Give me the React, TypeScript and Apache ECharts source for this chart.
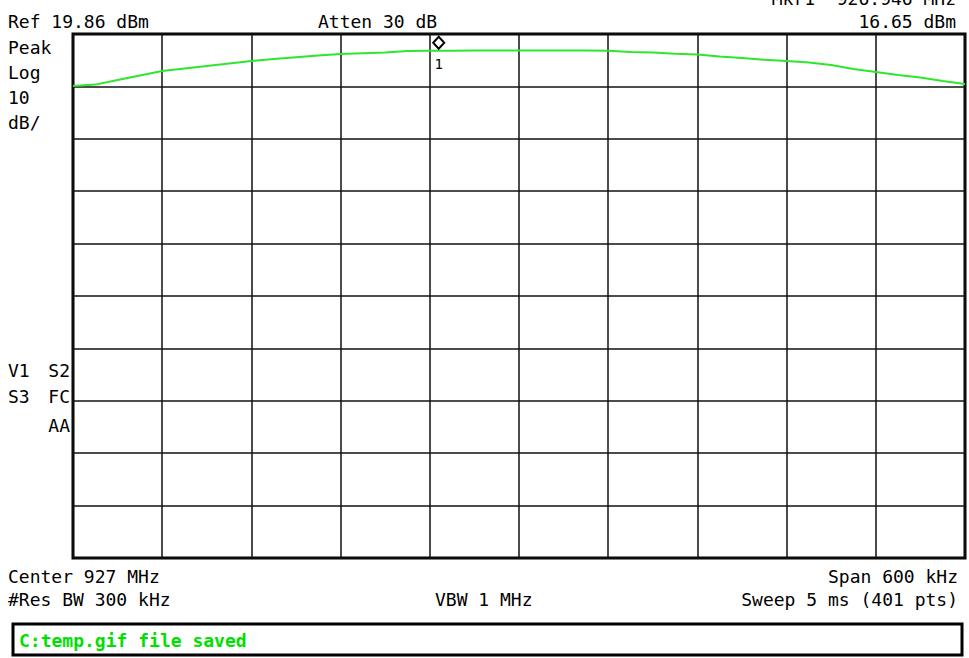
import React, { useEffect, useRef } from "react";
import * as echarts from "echarts";

// Frequency offset from the 927 MHz centre, in kHz (every 10th of 401 sweep points)
const FREQ_OFFSETS_KHZ = [
  -300, -285, -270, -255, -240, -225, -210, -195, -180, -165, -150, -135, -120, -105,
  -90, -75, -60, -45, -30, -15, 0, 15, 30, 45, 60, 75, 90, 105, 120, 135, 150, 165,
  180, 195, 210, 225, 240, 255, 270, 285, 300,
];

// Measured trace level in dBm
const TRACE_DBM = [
  9.94, 10.2, 11.08, 11.94, 12.8, 13.28, 13.75, 14.23, 14.71, 15.09, 15.43, 15.76,
  16.04, 16.18, 16.33, 16.62, 16.67, 16.68, 16.7, 16.7, 16.7, 16.7, 16.7, 16.69,
  16.68, 16.42, 16.33, 16.1, 15.95, 15.57, 15.28, 14.95, 14.71, 14.42, 13.94, 13.18,
  12.61, 12.04, 11.56, 10.89, 10.32,
];

// Display scale
const REF_LEVEL_DBM = 19.86;
const DB_PER_DIV = 10;
const DIVISIONS = 10;
const SPAN_KHZ = 600;

// Marker 1
const MARKER_OFFSET_KHZ = -54;
const MARKER_DBM = 16.65;

// Annotation texts
const HEADER_LEFT = "Ref 19.86 dBm";
const HEADER_MID = "Atten 30 dB";
const MARKER_FREQ_TEXT = "Mkr1  926.946 MHz";
const MARKER_LEVEL_TEXT = "16.65 dBm";
const SIDE_LINES = ["Peak", "Log", "10", "dB/"];
const FOOT_CENTER = "Center 927 MHz";
const FOOT_SPAN = "Span 600 kHz";
const FOOT_RBW = "#Res BW 300 kHz";
const FOOT_VBW = "VBW 1 MHz";
const FOOT_SWEEP = "Sweep 5 ms (401 pts)";
const STATUS_TEXT = "C:temp.gif file saved";

const FONT = '18px "DejaVu Sans Mono"';
const TRACE_GREEN = "#2ee62e";

function txt(text: string, x: number, y: number, align: string = "left", extra: any = {}) {
  return {
    type: "text",
    x,
    y,
    silent: true,
    style: {
      text,
      font: FONT,
      fill: "#000",
      align,
      textAlign: align,
      verticalAlign: "middle",
      textVerticalAlign: "middle",
      ...extra,
    },
  };
}

export default function App() {
  const ref = useRef<HTMLDivElement>(null);

  useEffect(() => {
    if (!ref.current) return;
    const chart = echarts.init(ref.current, null, { renderer: "svg" });

    const bottomDbm = REF_LEVEL_DBM - DB_PER_DIV * DIVISIONS;
    const half = SPAN_KHZ / 2;

    const graphics: any[] = [
      txt(HEADER_LEFT, 8, 21),
      txt(HEADER_MID, 318, 21),
      txt(MARKER_FREQ_TEXT, 956, -2, "right"),
      txt(MARKER_LEVEL_TEXT, 956, 21, "right"),
      ...SIDE_LINES.map((s, i) => txt(s, 8, 47 + i * 25)),
      txt("V1", 8, 370),
      txt("S2", 70, 370, "right"),
      txt("S3", 8, 396),
      txt("FC", 70, 396, "right"),
      txt("AA", 70, 425, "right"),
      txt(FOOT_CENTER, 8, 576),
      txt(FOOT_RBW, 8, 599),
      txt(FOOT_VBW, 435, 599),
      txt(FOOT_SPAN, 958, 576, "right"),
      txt(FOOT_SWEEP, 958, 599, "right"),
      {
        type: "rect",
        shape: { x: 13, y: 624, width: 949, height: 31 },
        style: { fill: "#fff", stroke: "#000", lineWidth: 3 },
        silent: true,
      },
      txt(STATUS_TEXT, 19, 640, "left", {
        font: 'bold 18px "DejaVu Sans Mono"',
        fill: "#00e000",
      }),
    ];

    chart.setOption({
      animation: false,
      backgroundColor: "#fff",
      grid: {
        left: 73,
        top: 34,
        width: 892,
        height: 524,
        show: true,
        borderColor: "#000",
        borderWidth: 3,
        backgroundColor: "#fff",
      },
      xAxis: {
        type: "value",
        min: -half,
        max: half,
        interval: SPAN_KHZ / DIVISIONS,
        axisLine: { show: false },
        axisTick: { show: false },
        axisLabel: { show: false },
        splitLine: { show: true, lineStyle: { color: "#111", width: 1.5 } },
      },
      yAxis: [
        {
          // graticule: one line per division
          type: "value",
          min: 0,
          max: DIVISIONS,
          interval: 1,
          axisLine: { show: false },
          axisTick: { show: false },
          axisLabel: { show: false },
          splitLine: { show: true, lineStyle: { color: "#111", width: 1.5 } },
        },
        {
          // amplitude scale for the trace
          type: "value",
          min: bottomDbm,
          max: REF_LEVEL_DBM,
          show: false,
          splitLine: { show: false },
        },
      ],
      series: [
        {
          type: "line",
          yAxisIndex: 1,
          data: FREQ_OFFSETS_KHZ.map((f, i) => [f, TRACE_DBM[i]]),
          showSymbol: false,
          symbol: "none",
          lineStyle: { color: TRACE_GREEN, width: 2 },
          silent: true,
          markPoint: {
            silent: true,
            data: [
              {
                coord: [MARKER_OFFSET_KHZ, MARKER_DBM],
                symbol: "diamond",
                symbolSize: [11, 12],
                symbolOffset: [0, -8],
                itemStyle: { color: "#fff", borderColor: "#000", borderWidth: 2 },
                label: {
                  show: true,
                  formatter: "1",
                  position: "bottom",
                  distance: 7,
                  color: "#000",
                  fontFamily: "DejaVu Sans Mono",
                  fontSize: 14,
                },
              },
            ],
          },
        },
      ],
      graphic: graphics,
    });

    return () => chart.dispose();
  }, []);

  return (
    <div
      ref={ref}
      style={{ position: "fixed", left: 0, top: 0, width: 969, height: 658 }}
    />
  );
}
